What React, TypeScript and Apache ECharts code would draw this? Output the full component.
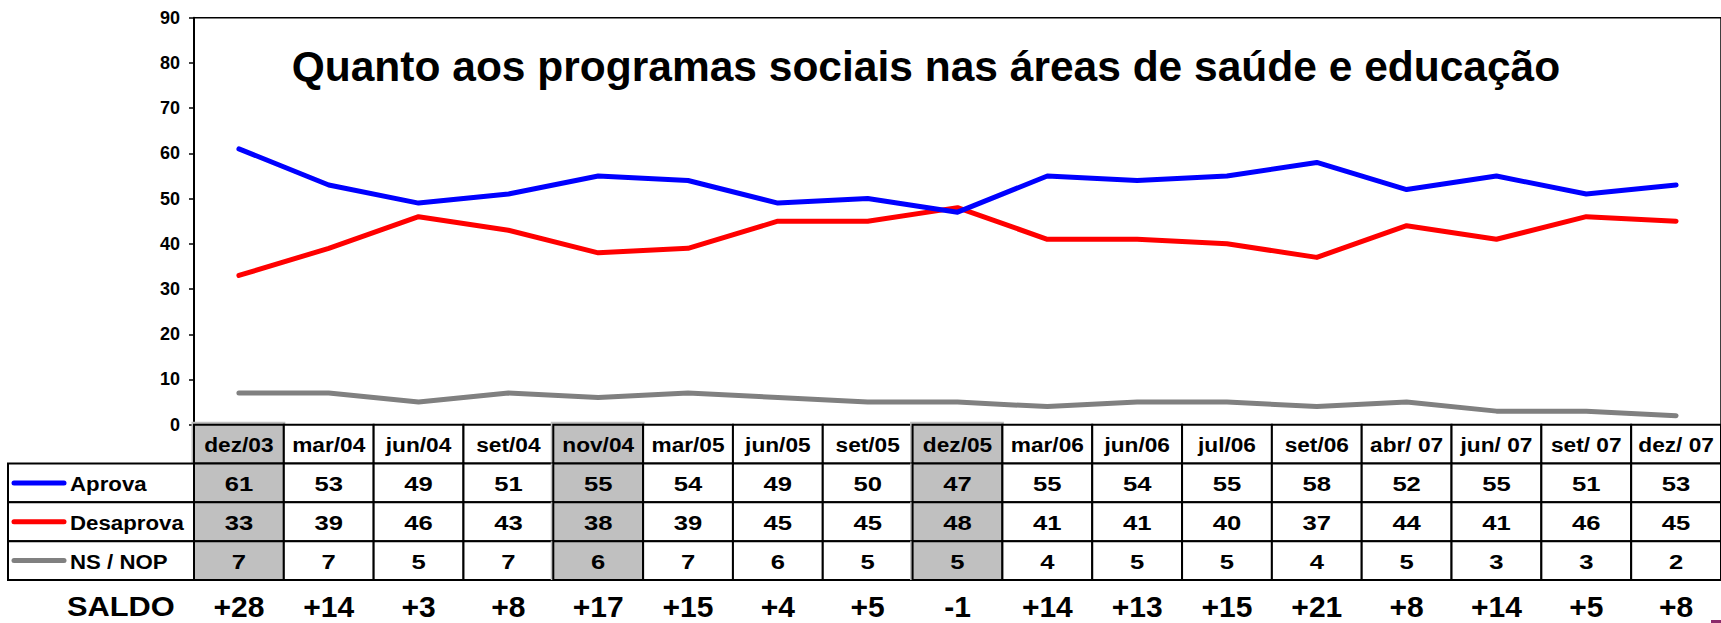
import React, { useEffect, useRef } from 'react';
import * as echarts from 'echarts';

const categories = ['dez/03', 'mar/04', 'jun/04', 'set/04', 'nov/04', 'mar/05', 'jun/05', 'set/05', 'dez/05', 'mar/06', 'jun/06', 'jul/06', 'set/06', 'abr/ 07', 'jun/ 07', 'set/ 07', 'dez/ 07'];
const aprova = [61, 53, 49, 51, 55, 54, 49, 50, 47, 55, 54, 55, 58, 52, 55, 51, 53];
const desaprova = [33, 39, 46, 43, 38, 39, 45, 45, 48, 41, 41, 40, 37, 44, 41, 46, 45];
const nsNop = [7, 7, 5, 7, 6, 7, 6, 5, 5, 4, 5, 5, 4, 5, 3, 3, 2];
const saldo = ['+28', '+14', '+3', '+8', '+17', '+15', '+4', '+5', '-1', '+14', '+13', '+15', '+21', '+8', '+14', '+5', '+8'];
const shadedCols = [0, 4, 8];
const seriesNames = ['Aprova', 'Desaprova', 'NS / NOP'];
const seriesColors = ['#0000FF', '#FF0000', '#808080'];
const tableRows = ['', 'Aprova', 'Desaprova', 'NS / NOP'];
const titleText = 'Quanto aos programas sociais nas áreas de saúde e educação';
const yMin = 0;
const yMax = 90;
const yInterval = 10;

const FONT = '"Liberation Sans", Arial, sans-serif';

export default function App() {
  const ref = useRef<HTMLDivElement>(null);

  useEffect(() => {
    if (!ref.current) return;
    const chart = echarts.init(ref.current, undefined, { renderer: 'svg' });
    const values = [aprova, desaprova, nsNop];

    const tableData: number[][] = [];
    for (let r = 0; r < tableRows.length; r++) {
      for (let c = 0; c < categories.length; c++) tableData.push([c, r]);
    }
    for (let r = 1; r < tableRows.length; r++) tableData.push([-1, r]);

    const gridLeft = 194;
    const gridWidth = 1532.1;

    chart.setOption({
      animation: false,
      backgroundColor: '#ffffff',
      textStyle: { fontFamily: FONT },
      grid: [
        { left: gridLeft, top: 17.7, width: gridWidth, height: 407, show: true, borderColor: '#000', borderWidth: 1.5 },
        { left: gridLeft, top: 424.7, width: gridWidth, height: 155.3 },
      ],
      xAxis: [
        {
          type: 'category', gridIndex: 0, data: categories, boundaryGap: true,
          axisLine: { show: true, lineStyle: { color: '#000', width: 2 } },
          axisTick: { show: false }, axisLabel: { show: false }, splitLine: { show: false },
        },
        {
          type: 'category', gridIndex: 1, data: categories, boundaryGap: true,
          axisLine: { show: false }, axisTick: { show: false }, splitLine: { show: false },
          axisLabel: {
            interval: 0, margin: 11, color: '#000', fontSize: 30, fontWeight: 'bold', fontFamily: FONT,
            formatter: (_v: string, i: number) => saldo[i],
          },
        },
      ],
      yAxis: [
        {
          type: 'value', gridIndex: 0, min: yMin, max: yMax, interval: yInterval,
          axisLine: { show: true, lineStyle: { color: '#000', width: 2 } },
          axisTick: { show: true, length: 5, lineStyle: { color: '#000', width: 1.5 } },
          splitLine: { show: false },
          axisLabel: { margin: 14, color: '#000', fontSize: 18, fontWeight: 'bold', fontFamily: FONT },
        },
        {
          type: 'category', gridIndex: 1, data: tableRows, inverse: true,
          axisLine: { show: false }, axisTick: { show: false }, axisLabel: { show: false }, splitLine: { show: false },
        },
      ],
      series: [
        ...seriesNames.map((name, i) => ({
          type: 'line', name, xAxisIndex: 0, yAxisIndex: 0, data: values[i],
          symbol: 'none', z: 5 - i,
          lineStyle: { color: seriesColors[i], width: 5, cap: 'round', join: 'round' },
        })),
        {
          type: 'custom', xAxisIndex: 1, yAxisIndex: 1, data: tableData, encode: { x: 0, y: 1 },
          z: 3,
          renderItem: (params: any, api: any) => {
            const c = api.value(0);
            const r = api.value(1);
            const size = api.size([1, 1]);
            const w = size[0];
            const h = size[1];
            if (c < 0) {
              const cy = api.coord([0, r])[1];
              const right = params.coordSys.x;
              const left = 8;
              return {
                type: 'group',
                children: [
                  { type: 'rect', shape: { x: left, y: cy - h / 2, width: right - left, height: h }, style: { fill: '#fff', stroke: '#000', lineWidth: 2 } },
                  { type: 'line', shape: { x1: 14, y1: cy, x2: 64, y2: cy }, style: { stroke: seriesColors[r - 1], lineWidth: 5, lineCap: 'round' } },
                  { type: 'text', x: 70, y: cy + 1, scaleX: 1.06, style: { text: tableRows[r], x: 0, y: 0, align: 'left', verticalAlign: 'middle', fill: '#000', font: `bold 21px ${FONT}` } },
                ],
              };
            }
            const p = api.coord([c, r]);
            const x0 = p[0] - w / 2;
            const y0 = p[1] - h / 2;
            const shaded = shadedCols.indexOf(c) >= 0;
            const text = r === 0 ? categories[c] : String(values[r - 1][c]);
            const children: any[] = [];
            if (shaded) {
              children.push({ type: 'rect', shape: { x: x0 - 2.5, y: r === 0 ? y0 - 3 : y0, width: w + 4, height: r === 0 ? h + 3 : h }, style: { fill: '#C0C0C0', stroke: null } });
            }
            children.push({ type: 'rect', shape: { x: x0, y: y0, width: w, height: h }, style: { fill: shaded ? '#C0C0C0' : '#fff', stroke: '#000', lineWidth: 2 } });
            children.push({ type: 'text', x: p[0], y: p[1] + 1, scaleX: r === 0 ? 1.08 : 1.22, style: { text, x: 0, y: 0, align: 'center', verticalAlign: 'middle', fill: '#000', font: `bold 21px ${FONT}` } });
            return { type: 'group', children };
          },
        },
      ],
      graphic: [
        { type: 'text', left: 291.7, top: 46, scaleX: 1.012, style: { text: titleText, fill: '#000', font: `bold 42px ${FONT}` } },
        { type: 'text', left: 67, top: 592, scaleX: 1.1, style: { text: 'SALDO', fill: '#000', font: `bold 28px ${FONT}` } },
        { type: 'rect', shape: { x: 1711, y: 620, width: 10, height: 3 }, style: { fill: '#8B2A6B' } },
      ],
    });
    return () => chart.dispose();
  }, []);

  return <div ref={ref} style={{ position: 'absolute', left: 0, top: 0, width: 1721, height: 623 }} />;
}
